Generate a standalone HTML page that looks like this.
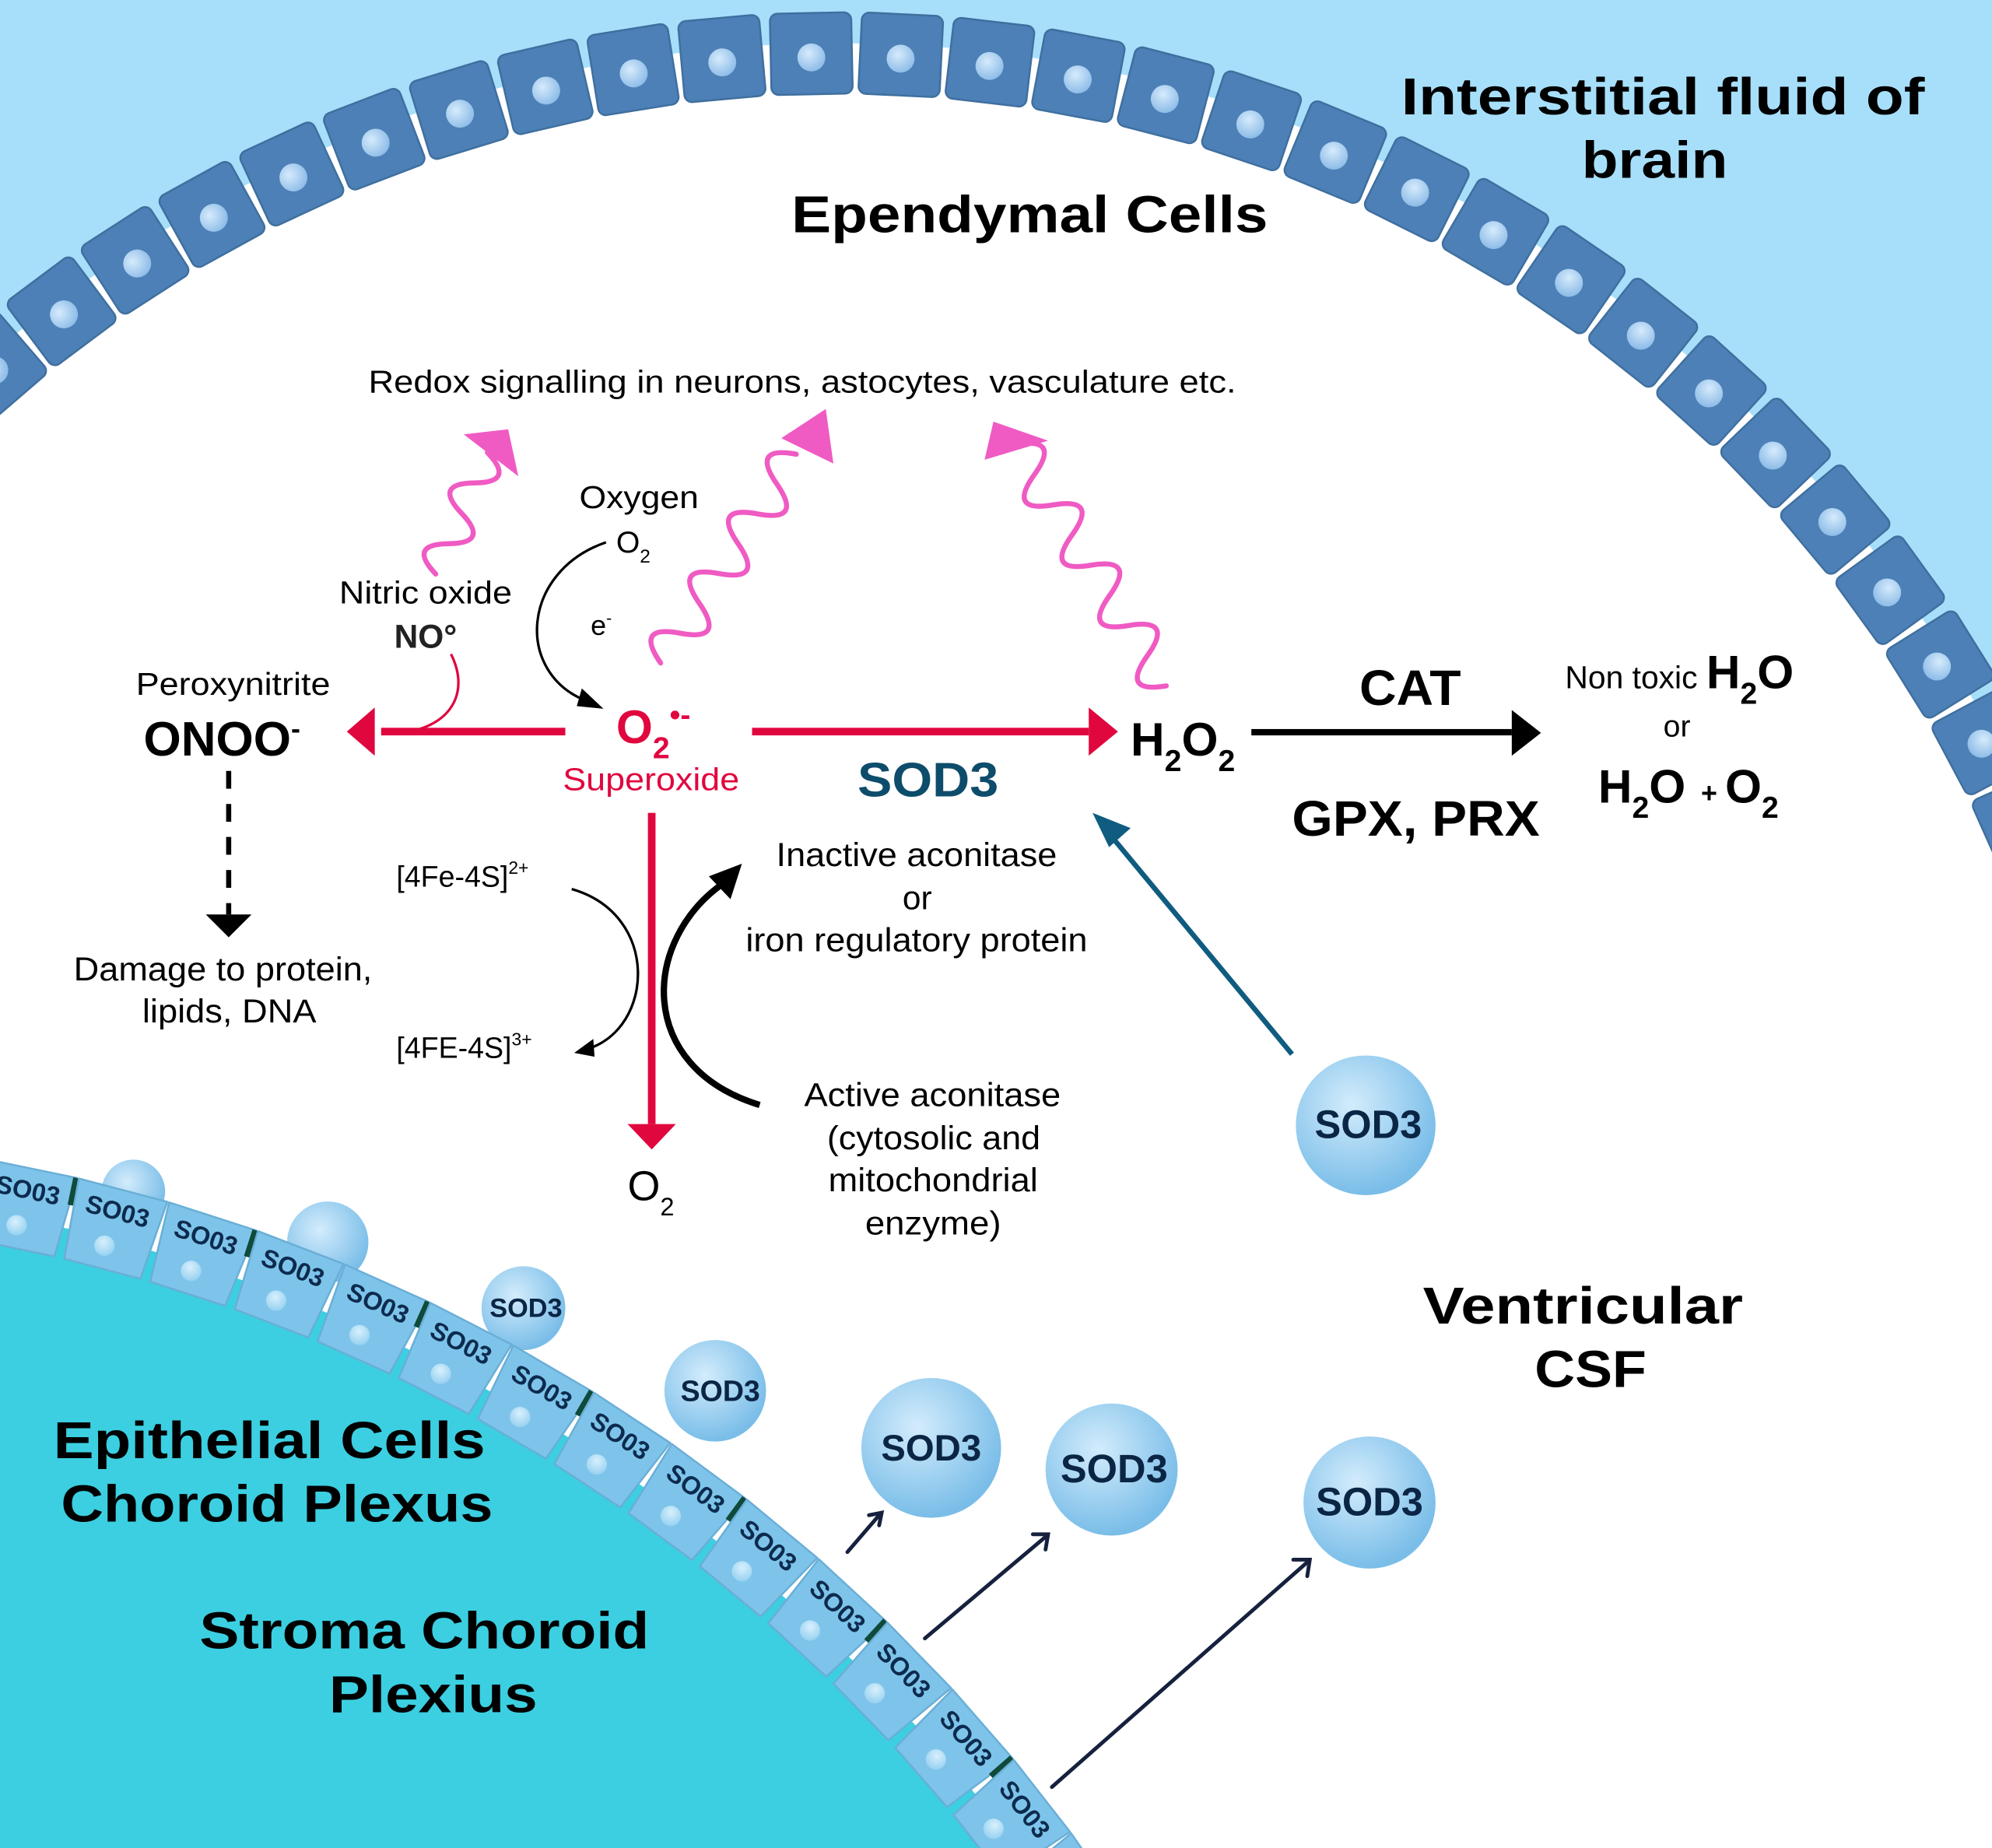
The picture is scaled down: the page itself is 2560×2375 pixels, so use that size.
<!DOCTYPE html>
<html><head><meta charset="utf-8"><style>
html,body{margin:0;padding:0;background:#fff;overflow:hidden;}
svg{display:block;}
text{font-family:"Liberation Sans",Arial,sans-serif;}
</style></head><body>
<svg width="2560" height="2375" viewBox="0 0 1568 1455" preserveAspectRatio="none" xmlns="http://www.w3.org/2000/svg">
<defs>
<radialGradient id="nuc" cx="40%" cy="35%" r="65%"><stop offset="0" stop-color="#d6ebfc"/><stop offset="1" stop-color="#8fbde8"/></radialGradient>
<radialGradient id="sph" cx="40%" cy="35%" r="65%"><stop offset="0" stop-color="#d3ecfc"/><stop offset="1" stop-color="#79bde8"/></radialGradient>
<radialGradient id="nuc2" cx="40%" cy="35%" r="65%"><stop offset="0" stop-color="#d8f0fd"/><stop offset="1" stop-color="#99d2f1"/></radialGradient>
<g id="ecell">
<rect x="-32" y="-32" width="64" height="64" rx="6" fill="#4c80b6" stroke="#3f6f9f" stroke-width="1.5"/>
<circle cx="0" cy="3" r="11" fill="url(#nuc)"/>
</g>
<g id="pcell">
<path d="M-36,-32 L36,-32 L31,32 L-31,32 Z" fill="#7ec4ea" stroke="#6aaed6" stroke-width="1.5" stroke-linejoin="round"/>
<circle cx="-3" cy="14" r="8" fill="url(#nuc2)"/>
<text x="0" y="-8" font-size="20" font-weight="bold" fill="#0d2b4e" text-anchor="middle">SO03</text>
</g>
<g id="pcellb">
<use href="#pcell"/>
<rect x="33" y="-32" width="8" height="22" fill="#0f4a3a"/>
</g>
</defs>

<rect x="0" y="0" width="1568" height="1455" fill="#a7dffa"/>
<circle cx="660" cy="1064" r="1030" fill="#fff"/>

<g transform="translate(660,1064)">
<g transform="rotate(-48.6)"><use href="#ecell" y="-1022"/></g>
<g transform="rotate(-44.65)"><use href="#ecell" y="-1022"/></g>
<g transform="rotate(-40.7)"><use href="#ecell" y="-1022"/></g>
<g transform="rotate(-36.75)"><use href="#ecell" y="-1022"/></g>
<g transform="rotate(-32.8)"><use href="#ecell" y="-1022"/></g>
<g transform="rotate(-28.85)"><use href="#ecell" y="-1022"/></g>
<g transform="rotate(-24.9)"><use href="#ecell" y="-1022"/></g>
<g transform="rotate(-20.95)"><use href="#ecell" y="-1022"/></g>
<g transform="rotate(-17)"><use href="#ecell" y="-1022"/></g>
<g transform="rotate(-13.05)"><use href="#ecell" y="-1022"/></g>
<g transform="rotate(-9.1)"><use href="#ecell" y="-1022"/></g>
<g transform="rotate(-5.15)"><use href="#ecell" y="-1022"/></g>
<g transform="rotate(-1.2)"><use href="#ecell" y="-1022"/></g>
<g transform="rotate(2.75)"><use href="#ecell" y="-1022"/></g>
<g transform="rotate(6.7)"><use href="#ecell" y="-1022"/></g>
<g transform="rotate(10.65)"><use href="#ecell" y="-1022"/></g>
<g transform="rotate(14.6)"><use href="#ecell" y="-1022"/></g>
<g transform="rotate(18.55)"><use href="#ecell" y="-1022"/></g>
<g transform="rotate(22.5)"><use href="#ecell" y="-1022"/></g>
<g transform="rotate(26.45)"><use href="#ecell" y="-1022"/></g>
<g transform="rotate(30.4)"><use href="#ecell" y="-1022"/></g>
<g transform="rotate(34.35)"><use href="#ecell" y="-1022"/></g>
<g transform="rotate(38.3)"><use href="#ecell" y="-1022"/></g>
<g transform="rotate(42.25)"><use href="#ecell" y="-1022"/></g>
<g transform="rotate(46.2)"><use href="#ecell" y="-1022"/></g>
<g transform="rotate(50.15)"><use href="#ecell" y="-1022"/></g>
<g transform="rotate(54.1)"><use href="#ecell" y="-1022"/></g>
<g transform="rotate(58.05)"><use href="#ecell" y="-1022"/></g>
<g transform="rotate(62)"><use href="#ecell" y="-1022"/></g>
<g transform="rotate(65.95)"><use href="#ecell" y="-1022"/></g>
<g transform="rotate(69.9)"><use href="#ecell" y="-1022"/></g>
</g>

<circle cx="-250" cy="2250" r="1318" fill="#3bcfe1"/>
<circle cx="105" cy="938" r="25" fill="url(#sph)"/>
<circle cx="258" cy="978" r="32" fill="url(#sph)"/>
<circle cx="412" cy="1030" r="33" fill="url(#sph)"/>
<circle cx="563" cy="1095" r="40" fill="url(#sph)"/>
<g transform="translate(-250,2250)">
<g transform="rotate(8.6)"><use href="#pcell" y="-1326"/></g>
<g transform="rotate(11.7)"><use href="#pcellb" y="-1326"/></g>
<g transform="rotate(14.8)"><use href="#pcell" y="-1326"/></g>
<g transform="rotate(17.9)"><use href="#pcellb" y="-1326"/></g>
<g transform="rotate(21)"><use href="#pcell" y="-1326"/></g>
<g transform="rotate(24.1)"><use href="#pcellb" y="-1326"/></g>
<g transform="rotate(27.2)"><use href="#pcell" y="-1326"/></g>
<g transform="rotate(30.3)"><use href="#pcellb" y="-1326"/></g>
<g transform="rotate(33.4)"><use href="#pcell" y="-1326"/></g>
<g transform="rotate(36.5)"><use href="#pcellb" y="-1326"/></g>
<g transform="rotate(39.6)"><use href="#pcell" y="-1326"/></g>
<g transform="rotate(42.7)"><use href="#pcellb" y="-1326"/></g>
<g transform="rotate(45.8)"><use href="#pcell" y="-1326"/></g>
<g transform="rotate(48.9)"><use href="#pcellb" y="-1326"/></g>
<g transform="rotate(52)"><use href="#pcell" y="-1326"/></g>
<g transform="rotate(55.1)"><use href="#pcellb" y="-1326"/></g>
</g>
<text x="414" y="1037" font-size="21" font-weight="bold" fill="#0b2545" text-anchor="middle">SOD3</text>
<text x="567" y="1103" font-size="23" font-weight="bold" fill="#0b2545" text-anchor="middle">SOD3</text>

<circle cx="733" cy="1140" r="55" fill="url(#sph)"/>
<text x="733" y="1150" font-size="29" font-weight="bold" fill="#0b2545" text-anchor="middle">SOD3</text>
<circle cx="875" cy="1157" r="52" fill="url(#sph)"/>
<text x="877" y="1167" font-size="31" font-weight="bold" fill="#0b2545" text-anchor="middle">SOD3</text>
<circle cx="1078" cy="1183" r="52" fill="url(#sph)"/>
<text x="1078" y="1193" font-size="31" font-weight="bold" fill="#0b2545" text-anchor="middle">SOD3</text>
<circle cx="1075" cy="886" r="55" fill="url(#sph)"/>
<text x="1077" y="896" font-size="31" font-weight="bold" fill="#0b2545" text-anchor="middle">SOD3</text>

<g stroke="#16213e" stroke-width="3" fill="none" stroke-linecap="round">
<path d="M667,1222 L692,1193"/><path d="M684,1193 L694,1191 L692,1201"/>
<path d="M728,1290 L823,1210"/><path d="M813,1208 L825,1208 L823,1220"/>
<path d="M828,1407 L1029,1230"/><path d="M1018,1228 L1031,1228 L1029,1241"/>
</g>

<line x1="1017" y1="830" x2="872" y2="655" stroke="#0f5c80" stroke-width="4"/>
<polygon points="860,640 890,652 873,667" fill="#0f5c80"/>

<g fill="#e0073f">
<rect x="300" y="573" width="145" height="6"/>
<polygon points="273,576 295,557 295,595"/>
<rect x="592" y="573" width="265" height="6"/>
<polygon points="880,576 857,557 857,595"/>
<rect x="510" y="640" width="6" height="245"/>
<polygon points="513,905 494,885 532,885"/>
</g>
<path d="M355,515 C370,545 355,570 322,576" stroke="#e0073f" stroke-width="2" fill="none"/>

<path d="M477,427 C410,450 405,530 462,552" stroke="#000" stroke-width="2" fill="none"/>
<polygon points="475,558 458,542 454,556" fill="#000"/>
<path d="M450,700 C520,720 515,810 462,826" stroke="#000" stroke-width="2" fill="none"/>
<polygon points="452,829 467,818 468,832" fill="#000"/>
<path d="M598,870 C500,840 505,740 570,695" stroke="#000" stroke-width="5" fill="none"/>
<polygon points="584,680 558,690 575,708" fill="#000"/>
<line x1="180" y1="607" x2="180" y2="720" stroke="#000" stroke-width="4" stroke-dasharray="14,12"/>
<polygon points="162,720 198,720 180,738" fill="#000"/>
<rect x="985" y="574" width="205" height="5" fill="#000"/>
<polygon points="1213,577 1190,559 1190,595" fill="#000"/>

<g stroke="#ef5bc3" stroke-width="4" fill="none" stroke-linecap="round">
<g transform="translate(343,452) rotate(-67)"><path d="M0,0 q13,-30 26,0 t26,0 t26,0 t26,0"/></g>
<g transform="translate(520,522) rotate(-57)"><path d="M0,0 q14,-34 28,0 t28,0 t28,0 t28,0 t28,0 t28,0 t28,0"/></g>
<g transform="translate(918,540) rotate(-122)"><path d="M0,0 q14,-34 28,0 t28,0 t28,0 t28,0 t28,0 t28,0 t28,0 t28,0"/></g>
</g>
<g fill="#ef5bc3">
<polygon points="408,375 365,342 400,338"/>
<polygon points="656,365 615,345 650,322"/>
<polygon points="775,362 782,332 825,347"/>
</g>

<g fill="#000">
<text x="1103" y="90" font-size="41" font-weight="bold" textLength="412" lengthAdjust="spacingAndGlyphs">Interstitial fluid of</text>
<text x="1245" y="140" font-size="41" font-weight="bold" textLength="115" lengthAdjust="spacingAndGlyphs">brain</text>
<text x="623" y="183" font-size="41" font-weight="bold" textLength="375" lengthAdjust="spacingAndGlyphs">Ependymal Cells</text>
<text x="290" y="309" font-size="25" textLength="683" lengthAdjust="spacingAndGlyphs">Redox signalling in neurons, astocytes, vasculature etc.</text>
<text x="456" y="400" font-size="25" textLength="94" lengthAdjust="spacingAndGlyphs">Oxygen</text>
<text x="485" y="435" font-size="24">O<tspan font-size="15" dy="8">2</tspan></text>
<text x="267" y="475" font-size="25" textLength="136" lengthAdjust="spacingAndGlyphs">Nitric oxide</text>
<text x="335" y="510" font-size="26" font-weight="bold" text-anchor="middle" fill="#222">NO°</text>
<text x="465" y="500" font-size="22">e<tspan font-size="13" dy="-9">-</tspan></text>
<text x="107" y="547" font-size="25" textLength="153" lengthAdjust="spacingAndGlyphs">Peroxynitrite</text>
<text x="113" y="595" font-size="38" font-weight="bold">ONOO<tspan font-size="22" dy="-14">-</tspan></text>
<text x="890" y="595" font-size="37" font-weight="bold">H<tspan font-size="24" dy="12">2</tspan><tspan dy="-12">O</tspan><tspan font-size="24" dy="12">2</tspan></text>
<text x="1070" y="555" font-size="39" font-weight="bold" textLength="80" lengthAdjust="spacingAndGlyphs">CAT</text>
<text x="1017" y="658" font-size="39" font-weight="bold" textLength="195" lengthAdjust="spacingAndGlyphs">GPX, PRX</text>
<text x="1232" y="542" font-size="25">Non toxic <tspan font-size="37" font-weight="bold">H<tspan font-size="24" dy="12">2</tspan><tspan dy="-12">O</tspan></tspan></text>
<text x="1320" y="580" font-size="24" text-anchor="middle">or</text>
<text x="1258" y="632" font-size="37" font-weight="bold">H<tspan font-size="24" dy="12">2</tspan><tspan dy="-12">O</tspan><tspan font-size="22" dx="6"> + </tspan><tspan>O</tspan><tspan font-size="24" dy="12">2</tspan></text>
<text x="312" y="698" font-size="23">[4Fe-4S]<tspan font-size="14" dy="-10">2+</tspan></text>
<text x="312" y="833" font-size="23">[4FE-4S]<tspan font-size="14" dy="-10">3+</tspan></text>
<text x="611" y="682" font-size="26" textLength="221" lengthAdjust="spacingAndGlyphs">Inactive aconitase</text>
<text x="722" y="716" font-size="26" text-anchor="middle">or</text>
<text x="587" y="749" font-size="26" textLength="269" lengthAdjust="spacingAndGlyphs">iron regulatory protein</text>
<text x="58" y="772" font-size="26" textLength="235" lengthAdjust="spacingAndGlyphs">Damage to protein,</text>
<text x="112" y="805" font-size="26" textLength="137" lengthAdjust="spacingAndGlyphs">lipids, DNA</text>
<text x="494" y="945" font-size="33">O<tspan font-size="20" dy="12">2</tspan></text>
<text x="633" y="871" font-size="26" textLength="202" lengthAdjust="spacingAndGlyphs">Active aconitase</text>
<text x="651" y="905" font-size="26" textLength="168" lengthAdjust="spacingAndGlyphs">(cytosolic and</text>
<text x="652" y="938" font-size="26" textLength="165" lengthAdjust="spacingAndGlyphs">mitochondrial</text>
<text x="681" y="972" font-size="26" textLength="107" lengthAdjust="spacingAndGlyphs">enzyme)</text>
<text x="1120" y="1042" font-size="41" font-weight="bold" textLength="252" lengthAdjust="spacingAndGlyphs">Ventricular</text>
<text x="1208" y="1092" font-size="41" font-weight="bold" textLength="88" lengthAdjust="spacingAndGlyphs">CSF</text>
<text x="42" y="1148" font-size="41" font-weight="bold" textLength="340" lengthAdjust="spacingAndGlyphs">Epithelial Cells</text>
<text x="48" y="1198" font-size="41" font-weight="bold" textLength="340" lengthAdjust="spacingAndGlyphs">Choroid Plexus</text>
<text x="157" y="1298" font-size="41" font-weight="bold" textLength="354" lengthAdjust="spacingAndGlyphs">Stroma Choroid</text>
<text x="259" y="1348" font-size="41" font-weight="bold" textLength="164" lengthAdjust="spacingAndGlyphs">Plexius</text>
</g>
<text x="485" y="585" font-size="37" font-weight="bold" fill="#e0073f">O<tspan font-size="24" dy="12">2</tspan><tspan font-size="24" dy="-26">•-</tspan></text>
<text x="443" y="622" font-size="25" fill="#e0073f" textLength="139" lengthAdjust="spacingAndGlyphs">Superoxide</text>
<text x="675" y="627" font-size="38" font-weight="bold" fill="#0e4c6b" textLength="111" lengthAdjust="spacingAndGlyphs">SOD3</text>
</svg>
</body></html>
